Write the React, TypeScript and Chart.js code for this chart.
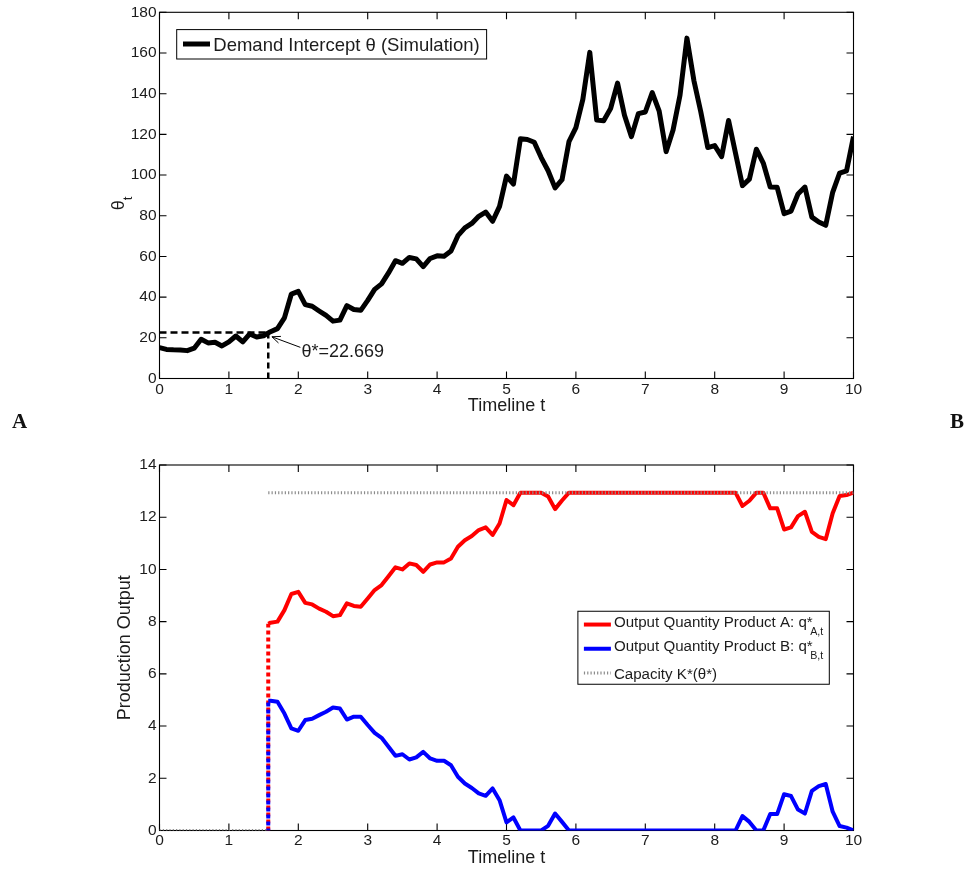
import React, { useEffect, useRef } from "react";
import { Chart, registerables } from "chart.js";

Chart.register(...registerables);

// ---------------- data ----------------
const T_STEP = 0.1;
const X_MIN = 0;
const X_MAX = 10;
const X_TICK_STEP = 1;

// Demand intercept theta_t, sampled every 0.1 from t = 0 to t = 10
const THETA: number[] = [
  15.2, 14.3, 14.1, 14.0, 13.7, 14.9, 19.3, 17.5, 17.8, 16.0,
  18.0, 20.9, 18.0, 21.9, 20.4, 21.0, 23.0, 24.5, 29.8, 41.5,
  42.8, 36.3, 35.5, 33.2, 31.0, 28.2, 28.7, 35.8, 33.9, 33.5,
  38.4, 43.8, 46.5, 51.9, 57.9, 56.6, 59.5, 58.8, 55.0, 59.0,
  60.3, 60.1, 62.7, 70.2, 74.0, 76.2, 79.7, 81.8, 77.3, 84.6,
  99.5, 95.5, 117.8, 117.5, 116.1, 108.6, 102.1, 93.7, 97.7, 116.4,
  123.3, 137.2, 160.3, 127.0, 126.7, 132.7, 145.2, 129.4, 118.9, 130.2,
  131.0, 140.5, 131.4, 111.5, 122.1, 139.2, 167.3, 146.5, 131.0, 113.5,
  114.5, 109.1, 126.8, 110.7, 94.8, 98.0, 112.7, 105.9, 94.1, 94.0,
  81.0, 82.3, 90.7, 94.1, 79.3, 76.9, 75.3, 91.5, 101.0, 102.1,
  118.9,
];
const THETA_STAR = 22.669;
const T_STAR = 1.567;

// Output quantities, sampled every 0.1 from t = 1.6 to t = 10
const Q_START_T = 1.6;
const Q_A: number[] = [
  7.96, 8.0, 8.44, 9.06, 9.14, 8.72, 8.66, 8.5, 8.38, 8.21,
  8.25, 8.7, 8.6, 8.57, 8.89, 9.21, 9.4, 9.74, 10.08, 10.0,
  10.23, 10.17, 9.91, 10.19, 10.27, 10.27, 10.42, 10.87, 11.12, 11.28,
  11.51, 11.61, 11.32, 11.76, 12.66, 12.46, 12.94, 12.94, 12.94, 12.94,
  12.79, 12.31, 12.64, 12.94, 12.94, 12.94, 12.94, 12.94, 12.94, 12.94,
  12.94, 12.94, 12.94, 12.94, 12.94, 12.94, 12.94, 12.94, 12.94, 12.94,
  12.94, 12.94, 12.94, 12.94, 12.94, 12.94, 12.94, 12.94, 12.43, 12.63,
  12.94, 12.94, 12.34, 12.34, 11.53, 11.61, 12.04, 12.21, 11.44, 11.25,
  11.16, 12.15, 12.81, 12.85, 12.94,
];
const Q_B: number[] = [
  4.97, 4.93, 4.48, 3.91, 3.82, 4.23, 4.28, 4.42, 4.55, 4.71,
  4.67, 4.25, 4.36, 4.36, 4.04, 3.74, 3.55, 3.21, 2.86, 2.92,
  2.72, 2.8, 3.01, 2.76, 2.67, 2.67, 2.5, 2.06, 1.8, 1.63,
  1.42, 1.33, 1.61, 1.16, 0.31, 0.5, 0, 0, 0, 0,
  0.18, 0.65, 0.33, 0, 0, 0, 0, 0, 0, 0,
  0, 0, 0, 0, 0, 0, 0, 0, 0, 0,
  0, 0, 0, 0, 0, 0, 0, 0, 0.55, 0.33,
  0, 0, 0.63, 0.63, 1.39, 1.32, 0.8, 0.65, 1.52, 1.7,
  1.78, 0.72, 0.17, 0.11, 0,
];
const Q_A_AT_STAR = 7.92;
const Q_B_AT_STAR = 4.97;
const CAPACITY_K = 12.94;

const TOP_Y_MAX = 180;
const TOP_Y_STEP = 20;
const BOT_Y_MAX = 14;
const BOT_Y_STEP = 2;

// texts
const X_TITLE = "Timeline t";
const TOP_Y_TITLE = "θ";
const TOP_Y_TITLE_SUB = "t";
const BOTTOM_Y_TITLE = "Production Output";
const TOP_LEGEND_LABEL = "Demand Intercept θ (Simulation)";
const BOTTOM_LEGEND_LABELS = [
  "Output Quantity Product A: q*",
  "Output Quantity Product B: q*",
  "Capacity K*(θ*)",
];
const BOTTOM_LEGEND_SUBS = ["A,t", "B,t", ""];
const ANNOTATION_TEXT = "θ*=22.669";
const PANEL_LABELS = ["A", "B"];

// annotation anchor points (data units)
const ARROW_TIP = { x: 1.62, y: 20.5 };
const ARROW_TAIL = { x: 2.03, y: 15.3 };
const ANNOTATION_POS = { x: 2.045, y: 13.2 };

// ---------------- styles ----------------
const FONT = '"Liberation Sans", Arial, Helvetica, sans-serif';
const INK = "#1c1c1c";
const RED = "#ff0000";
const BLUE = "#0000ff";
const GRAY = "#8c8c8c";
const TICK_LEN = 7;

function drawFrame(chart: any) {
  const { ctx, chartArea: a, scales } = chart;
  const xs = scales.x;
  const ys = scales.y;
  ctx.save();
  ctx.strokeStyle = "#000";
  ctx.lineWidth = 1.1;
  ctx.strokeRect(a.left, a.top, a.right - a.left, a.bottom - a.top);
  ctx.beginPath();
  xs.ticks.forEach((t: any) => {
    const px = xs.getPixelForValue(t.value);
    ctx.moveTo(px, a.bottom);
    ctx.lineTo(px, a.bottom - TICK_LEN);
    ctx.moveTo(px, a.top);
    ctx.lineTo(px, a.top + TICK_LEN);
  });
  ys.ticks.forEach((t: any) => {
    const py = ys.getPixelForValue(t.value);
    ctx.moveTo(a.left, py);
    ctx.lineTo(a.left + TICK_LEN, py);
    ctx.moveTo(a.right, py);
    ctx.lineTo(a.right - TICK_LEN, py);
  });
  ctx.stroke();
  ctx.restore();
}

const topPlugin = {
  id: "topDecor",
  beforeDatasetsDraw(chart: any) {
    drawFrame(chart);
  },
  afterDatasetsDraw(chart: any) {
    const { ctx, chartArea: a, scales } = chart;
    const x = scales.x;
    const y = scales.y;
    ctx.save();
    // annotation arrow
    const tipX = x.getPixelForValue(ARROW_TIP.x);
    const tipY = y.getPixelForValue(ARROW_TIP.y);
    const tailX = x.getPixelForValue(ARROW_TAIL.x);
    const tailY = y.getPixelForValue(ARROW_TAIL.y);
    ctx.strokeStyle = "#000";
    ctx.lineWidth = 1;
    ctx.beginPath();
    ctx.moveTo(tailX, tailY);
    ctx.lineTo(tipX, tipY);
    ctx.stroke();
    const ang = Math.atan2(tipY - tailY, tipX - tailX);
    const L = 9;
    const spread = 0.4;
    ctx.beginPath();
    ctx.moveTo(tipX - L * Math.cos(ang - spread), tipY - L * Math.sin(ang - spread));
    ctx.lineTo(tipX, tipY);
    ctx.lineTo(tipX - L * Math.cos(ang + spread), tipY - L * Math.sin(ang + spread));
    ctx.stroke();
    ctx.font = `18px ${FONT}`;
    ctx.fillStyle = INK;
    ctx.textAlign = "left";
    ctx.textBaseline = "middle";
    ctx.fillText(
      ANNOTATION_TEXT,
      x.getPixelForValue(ANNOTATION_POS.x),
      y.getPixelForValue(ANNOTATION_POS.y)
    );

    // legend
    ctx.font = `18.5px ${FONT}`;
    const tw = ctx.measureText(TOP_LEGEND_LABEL).width;
    const bx = a.left + 17.2;
    const by = a.top + 17.3;
    const bw = 36.6 + tw + 7;
    const bh = 29.4;
    ctx.fillStyle = "#fff";
    ctx.fillRect(bx, by, bw, bh);
    ctx.strokeStyle = "#000";
    ctx.lineWidth = 1;
    ctx.strokeRect(bx, by, bw, bh);
    const ly = by + 14.4;
    ctx.lineWidth = 5;
    ctx.beginPath();
    ctx.moveTo(bx + 6.3, ly);
    ctx.lineTo(bx + 33.3, ly);
    ctx.stroke();
    ctx.fillStyle = INK;
    ctx.textBaseline = "alphabetic";
    ctx.fillText(TOP_LEGEND_LABEL, bx + 36.6, ly + 7);
    ctx.restore();
  },
  afterDraw(chart: any) {
    const { ctx, chartArea: a } = chart;
    ctx.save();
    ctx.translate(119.5, (a.top + a.bottom) / 2 + 8);
    ctx.rotate(-Math.PI / 2);
    ctx.font = `18px ${FONT}`;
    const w1 = ctx.measureText(TOP_Y_TITLE).width;
    ctx.font = `13px ${FONT}`;
    const w2 = ctx.measureText(TOP_Y_TITLE_SUB).width;
    const start = -(w1 + w2) / 2;
    ctx.fillStyle = INK;
    ctx.textAlign = "left";
    ctx.textBaseline = "middle";
    ctx.font = `18px ${FONT}`;
    ctx.fillText(TOP_Y_TITLE, start, 0);
    ctx.font = `13px ${FONT}`;
    ctx.fillText(TOP_Y_TITLE_SUB, start + w1, 9);
    ctx.restore();
  },
};

const bottomPlugin = {
  id: "bottomDecor",
  beforeDatasetsDraw(chart: any) {
    drawFrame(chart);
  },
  afterDatasetsDraw(chart: any) {
    const { ctx, chartArea: a } = chart;
    ctx.save();
    const mainFont = `15.1px ${FONT}`;
    const subFont = `10.7px ${FONT}`;
    let maxW = 0;
    BOTTOM_LEGEND_LABELS.forEach((lab, i) => {
      ctx.font = mainFont;
      let w = ctx.measureText(lab).width;
      if (BOTTOM_LEGEND_SUBS[i]) {
        ctx.font = subFont;
        w += ctx.measureText(BOTTOM_LEGEND_SUBS[i]).width - 2.5;
      }
      maxW = Math.max(maxW, w);
    });
    const bw = 36 + maxW + 6;
    const bh = 73;
    const bx = a.right - 24.2 - bw;
    const by = (a.top + a.bottom) / 2 - bh / 2;
    ctx.fillStyle = "#fff";
    ctx.fillRect(bx, by, bw, bh);
    ctx.strokeStyle = "#000";
    ctx.lineWidth = 1;
    ctx.strokeRect(bx, by, bw, bh);
    const colors = [RED, BLUE, GRAY];
    BOTTOM_LEGEND_LABELS.forEach((lab, i) => {
      const ly = by + 13.3 + i * 24.2;
      ctx.save();
      ctx.strokeStyle = colors[i];
      if (i === 2) {
        ctx.lineWidth = 3;
        ctx.setLineDash([1.2, 2.1]);
      } else {
        ctx.lineWidth = 4;
      }
      ctx.beginPath();
      ctx.moveTo(bx + 6, ly);
      ctx.lineTo(bx + 33, ly);
      ctx.stroke();
      ctx.restore();
      ctx.fillStyle = INK;
      ctx.textAlign = "left";
      ctx.textBaseline = "alphabetic";
      ctx.font = mainFont;
      const sub = BOTTOM_LEGEND_SUBS[i];
      const base = sub ? ly + 2.4 : ly + 5.7;
      ctx.fillText(lab, bx + 36, base);
      if (sub) {
        const mw = ctx.measureText(lab).width;
        ctx.font = subFont;
        ctx.fillText(sub, bx + 36 + mw - 2.5, base + 8.3);
      }
    });
    ctx.restore();
  },
};

const tickFont = { family: FONT, size: 15.5 };
const titleFont = { family: FONT, size: 18 };

function xScale(height: number, tickPad: number, titlePadBottom: number) {
  return {
    type: "linear" as const,
    min: X_MIN,
    max: X_MAX,
    ticks: {
      stepSize: X_TICK_STEP,
      font: tickFont,
      color: INK,
      padding: tickPad,
      maxRotation: 0,
      autoSkip: false,
    },
    grid: { display: false, drawTicks: false },
    border: { display: false },
    title: {
      display: true,
      text: X_TITLE,
      font: titleFont,
      color: INK,
      padding: { top: 0, bottom: titlePadBottom },
    },
    afterFit: (s: any) => {
      s.height = height;
    },
  };
}

function buildTopConfig(): any {
  const thetaPts = THETA.map((v, i) => ({ x: i * T_STEP, y: v }));
  return {
    type: "line",
    data: {
      datasets: [
        {
          data: thetaPts,
          borderColor: "#000",
          borderWidth: 5,
          borderJoinStyle: "round",
          pointRadius: 0,
          tension: 0,
          order: 2,
        },
        {
          data: [
            { x: X_MIN, y: THETA_STAR },
            { x: T_STAR, y: THETA_STAR },
          ],
          borderColor: "#000",
          borderWidth: 2.5,
          borderDash: [7, 4],
          pointRadius: 0,
          order: 1,
        },
        {
          data: [
            { x: T_STAR, y: 0 },
            { x: T_STAR, y: THETA_STAR },
          ],
          borderColor: "#000",
          borderWidth: 2.5,
          borderDash: [6, 4],
          pointRadius: 0,
          order: 1,
        },
      ],
    },
    options: {
      animation: false,
      responsive: false,
      devicePixelRatio: 1,
      events: [],
      layout: { padding: { top: 10, left: 0, right: 122.5, bottom: 0 } },
      plugins: { legend: { display: false }, tooltip: { enabled: false } },
      scales: {
        x: xScale(436 - 378.5, 2, 19.2),
        y: {
          type: "linear",
          min: 0,
          max: TOP_Y_MAX,
          ticks: { stepSize: TOP_Y_STEP, font: tickFont, color: INK, padding: 3 },
          grid: { display: false, drawTicks: false },
          border: { display: false },
          title: { display: false },
          afterFit: (s: any) => {
            s.width = 159.5;
          },
        },
      },
    },
    plugins: [topPlugin],
  };
}

function buildBottomConfig(): any {
  const aPts = [
    { x: T_STAR, y: Q_A_AT_STAR },
    ...Q_A.map((v, i) => ({ x: Q_START_T + i * T_STEP, y: v })),
  ];
  const bPts = [
    { x: T_STAR, y: Q_B_AT_STAR },
    ...Q_B.map((v, i) => ({ x: Q_START_T + i * T_STEP, y: v })),
  ];
  return {
    type: "line",
    data: {
      datasets: [
        {
          data: [
            { x: X_MIN, y: 0 },
            { x: T_STAR, y: 0 },
            { x: T_STAR, y: null },
            { x: T_STAR, y: CAPACITY_K },
            { x: X_MAX, y: CAPACITY_K },
          ],
          borderColor: GRAY,
          borderWidth: 3,
          borderDash: [1.2, 2.1],
          pointRadius: 0,
          spanGaps: false,
          order: 0,
        },
        {
          data: [
            { x: T_STAR, y: 0 },
            { x: T_STAR, y: Q_B_AT_STAR },
          ],
          borderColor: BLUE,
          borderWidth: 4,
          borderDash: [4, 3],
          borderDashOffset: 2,
          pointRadius: 0,
          order: 1,
        },
        {
          data: bPts,
          borderColor: BLUE,
          borderWidth: 4,
          borderJoinStyle: "round",
          pointRadius: 0,
          tension: 0,
          order: 2,
        },
        {
          data: [
            { x: T_STAR, y: 0 },
            { x: T_STAR, y: Q_A_AT_STAR },
          ],
          borderColor: RED,
          borderWidth: 4,
          borderDash: [4, 3],
          pointRadius: 0,
          order: 3,
        },
        {
          data: aPts,
          borderColor: RED,
          borderWidth: 4,
          borderJoinStyle: "round",
          pointRadius: 0,
          tension: 0,
          order: 4,
        },
      ],
    },
    options: {
      animation: false,
      responsive: false,
      devicePixelRatio: 1,
      events: [],
      layout: { padding: { top: 29, left: 0, right: 122.5, bottom: 0 } },
      plugins: { legend: { display: false }, tooltip: { enabled: false } },
      scales: {
        x: xScale(435 - 394.5, 1, 2.4),
        y: {
          type: "linear",
          min: 0,
          max: BOT_Y_MAX,
          ticks: { stepSize: BOT_Y_STEP, font: tickFont, color: INK, padding: 3 },
          grid: { display: false, drawTicks: false },
          border: { display: false },
          title: {
            display: true,
            text: BOTTOM_Y_TITLE,
            font: titleFont,
            color: INK,
            padding: { top: 125 - 10.8, bottom: 0 },
          },
          afterFit: (s: any) => {
            s.width = 159.5;
          },
        },
      },
    },
    plugins: [bottomPlugin],
  };
}

const panelLabelStyle: React.CSSProperties = {
  position: "absolute",
  top: 411,
  font: 'bold 21px "Liberation Serif", "Times New Roman", serif',
  lineHeight: "21px",
  color: "#111",
};

export default function App() {
  const topRef = useRef<HTMLCanvasElement>(null);
  const botRef = useRef<HTMLCanvasElement>(null);

  useEffect(() => {
    const top = new Chart(topRef.current as HTMLCanvasElement, buildTopConfig());
    const bot = new Chart(botRef.current as HTMLCanvasElement, buildBottomConfig());
    return () => {
      top.destroy();
      bot.destroy();
    };
  }, []);

  return (
    <div
      style={{
        position: "absolute",
        left: 0,
        top: 0,
        width: 976,
        height: 871,
        background: "#fff",
        overflow: "hidden",
      }}
    >
      <canvas
        ref={topRef}
        width={976}
        height={436}
        style={{ position: "absolute", left: 0, top: 0, width: 976, height: 436 }}
      />
      <canvas
        ref={botRef}
        width={976}
        height={435}
        style={{ position: "absolute", left: 0, top: 436, width: 976, height: 435 }}
      />
      <div style={{ ...panelLabelStyle, left: 12 }}>{PANEL_LABELS[0]}</div>
      <div style={{ ...panelLabelStyle, left: 950 }}>{PANEL_LABELS[1]}</div>
    </div>
  );
}
